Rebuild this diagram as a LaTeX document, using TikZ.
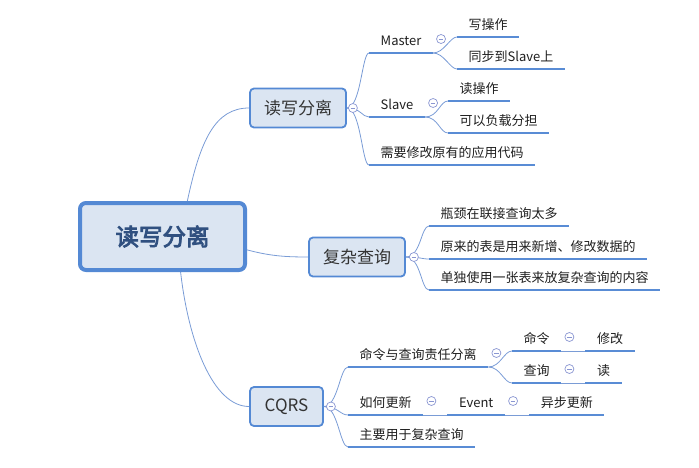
\documentclass[tikz,border=0pt]{standalone}
\usepackage{fontspec}
\setmainfont{Noto Sans CJK SC}
\newfontfamily\rootfont[FakeBold=3.5]{Noto Sans CJK SC}
\usetikzlibrary{positioning}
\definecolor{boxfill}{RGB}{219,229,242}
\definecolor{boxline}{RGB}{84,137,212}
\definecolor{lineblue}{RGB}{89,140,213}
\definecolor{linkblue}{RGB}{122,156,214}
\definecolor{foldgray}{RGB}{138,150,210}
\definecolor{roottext}{RGB}{48,80,128}
\begin{document}
\begin{tikzpicture}[
            x=1pt, y=-1pt,
            node distance=24pt,
            root/.style={
                draw=boxline, line width=4pt, fill=boxfill,
                rounded corners=6pt,
                minimum width=165pt, minimum height=67pt,
                text=roottext,
                font=\rootfont\fontsize{23.5pt}{28pt}\selectfont
            },
            topic/.style={
                draw=boxline, line width=1.8pt, fill=boxfill,
                rounded corners=4pt,
                minimum height=39pt, inner xsep=14pt,
                text=black!80,
                font=\fontsize{17pt}{20pt}\selectfont
            },
            uline/.style={draw=lineblue, line width=2.8pt},
            leaf/.style={
                anchor=south west,
                inner xsep=11.5pt, inner ysep=4pt,
                text height=10pt, text depth=3pt,
                text=black!88,
                font=\fontsize{13pt}{16pt}\selectfont,
                append after command={(\tikzlastnode.south west) edge[uline] (\tikzlastnode.south east)}
            },
            link/.style={draw=linkblue, line width=0.8pt},
            fold/.style={
                circle, draw=foldgray, fill=white, line width=0.7pt,
                inner sep=0pt, minimum size=9pt,
                path picture={\draw[foldgray, line width=0.7pt]
                    ([xshift=-2.4pt]path picture bounding box.center) --
                    ([xshift=2.4pt]path picture bounding box.center);}
            }
        ]
            \useasboundingbox (0,0) rectangle (699,468);
            \node[root] (root) at (162.5,236.5) {读写分离};
            \node[topic, minimum width=96pt] (rw) at (298,108) {读写分离};
            \node[topic, minimum width=94pt] (complex) at (357,257) {复杂查询};
            \node[topic, minimum width=73pt] (cqrs) at (286.5,406.5) {CQRS};

            \node[leaf] (master) at (369,53) {Master};
            \node[leaf] (slave) at (369,117) {Slave};
            \node[leaf] (recode) at (369,165) {需要修改原有的应用代码};
            \node[leaf] (write) at (457,37) {写操作};
            \node[leaf] (sync) at (457,69) {同步到Slave上};
            \node[leaf] (read) at (448,101) {读操作};
            \node[leaf] (share) at (448,133) {可以负载分担};

            \node[leaf] (neck) at (429,226) {瓶颈在联接查询太多};
            \node[leaf] (oldtab) at (429,259) {原来的表是用来新增、修改数据的};
            \node[leaf] (newtab) at (429,290) {单独使用一张表来放复杂查询的内容};

            \node[leaf] (cqs) at (348,367) {命令与查询责任分离};
            \node[leaf] (howto) at (348,415) {如何更新};
            \node[leaf] (mainuse) at (348,447) {主要用于复杂查询};
            \node[leaf] (cmd) at (512,351) {命令};
            \node[leaf] (qry) at (512,383) {查询};
            \node[leaf, right=of cmd] (modify) {修改};
            \node[leaf, right=of qry] (rdonly) {读};
            \node[leaf, right=of howto] (event) {Event};
            \node[leaf, right=of event] (async) {异步更新};

            \draw[link] (root.55) .. controls +(13,-61) and +(-34,0) .. (rw.west);
            \draw[link] (root.-9) .. controls +(23,6) and +(-24,0) .. (complex.west);
            \draw[link] (root.-63) .. controls +(8,70) and +(-36,0) .. (cqrs.west);

            \draw[link] (rw.east) .. controls +(14,0) and +(-7,0) .. (master.south west);
            \draw[link] (rw.east) .. controls +(14,0) and +(-7,0) .. (slave.south west);
            \draw[link] (rw.east) .. controls +(14,0) and +(-7,0) .. (recode.south west);
            \draw[link] (master.south east) .. controls +(11,0) and +(-7,0) .. (write.south west);
            \draw[link] (master.south east) .. controls +(11,0) and +(-7,0) .. (sync.south west);
            \draw[link] (slave.south east) .. controls +(13,0) and +(-8,0) .. (read.south west);
            \draw[link] (slave.south east) .. controls +(13,0) and +(-8,0) .. (share.south west);

            \draw[link] (complex.east) .. controls +(15,0) and +(-8,0) .. (neck.south west);
            \draw[link] (complex.east) .. controls +(15,0) and +(-8,0) .. (oldtab.south west);
            \draw[link] (complex.east) .. controls +(15,0) and +(-8,0) .. (newtab.south west);

            \draw[link] (cqrs.east) .. controls +(14,0) and +(-8,0) .. (cqs.south west);
            \draw[link] (cqrs.east) .. controls +(14,0) and +(-8,0) .. (howto.south west);
            \draw[link] (cqrs.east) .. controls +(14,0) and +(-8,0) .. (mainuse.south west);
            \draw[link] (cqs.south east) .. controls +(12,0) and +(-8,0) .. (cmd.south west);
            \draw[link] (cqs.south east) .. controls +(12,0) and +(-8,0) .. (qry.south west);
            \draw[link] (cmd.south east) -- (modify.south west);
            \draw[link] (qry.south east) -- (rdonly.south west);
            \draw[link] (howto.south east) -- (event.south west);
            \draw[link] (event.south east) -- (async.south west);

            \node[fold] (rwfold) at ([xshift=6pt]rw.east) {};
            \node[fold] (complexfold) at ([xshift=8pt]complex.east) {};
            \node[fold] (cqrsfold) at ([xshift=7pt]cqrs.east) {};
            \node[fold] (masterfold) at ([shift={(8,-14)}]master.south east) {};
            \node[fold] (slavefold) at ([shift={(8,-14)}]slave.south east) {};
            \node[fold] (cqsfold) at ([shift={(8,-14)}]cqs.south east) {};
            \node[fold] (cmdfold) at ([shift={(8,-14)}]cmd.south east) {};
            \node[fold] (qryfold) at ([shift={(8,-14)}]qry.south east) {};
            \node[fold] (howtofold) at ([shift={(8,-14)}]howto.south east) {};
            \node[fold] (eventfold) at ([shift={(8,-14)}]event.south east) {};
        \end{tikzpicture}
\end{document}
